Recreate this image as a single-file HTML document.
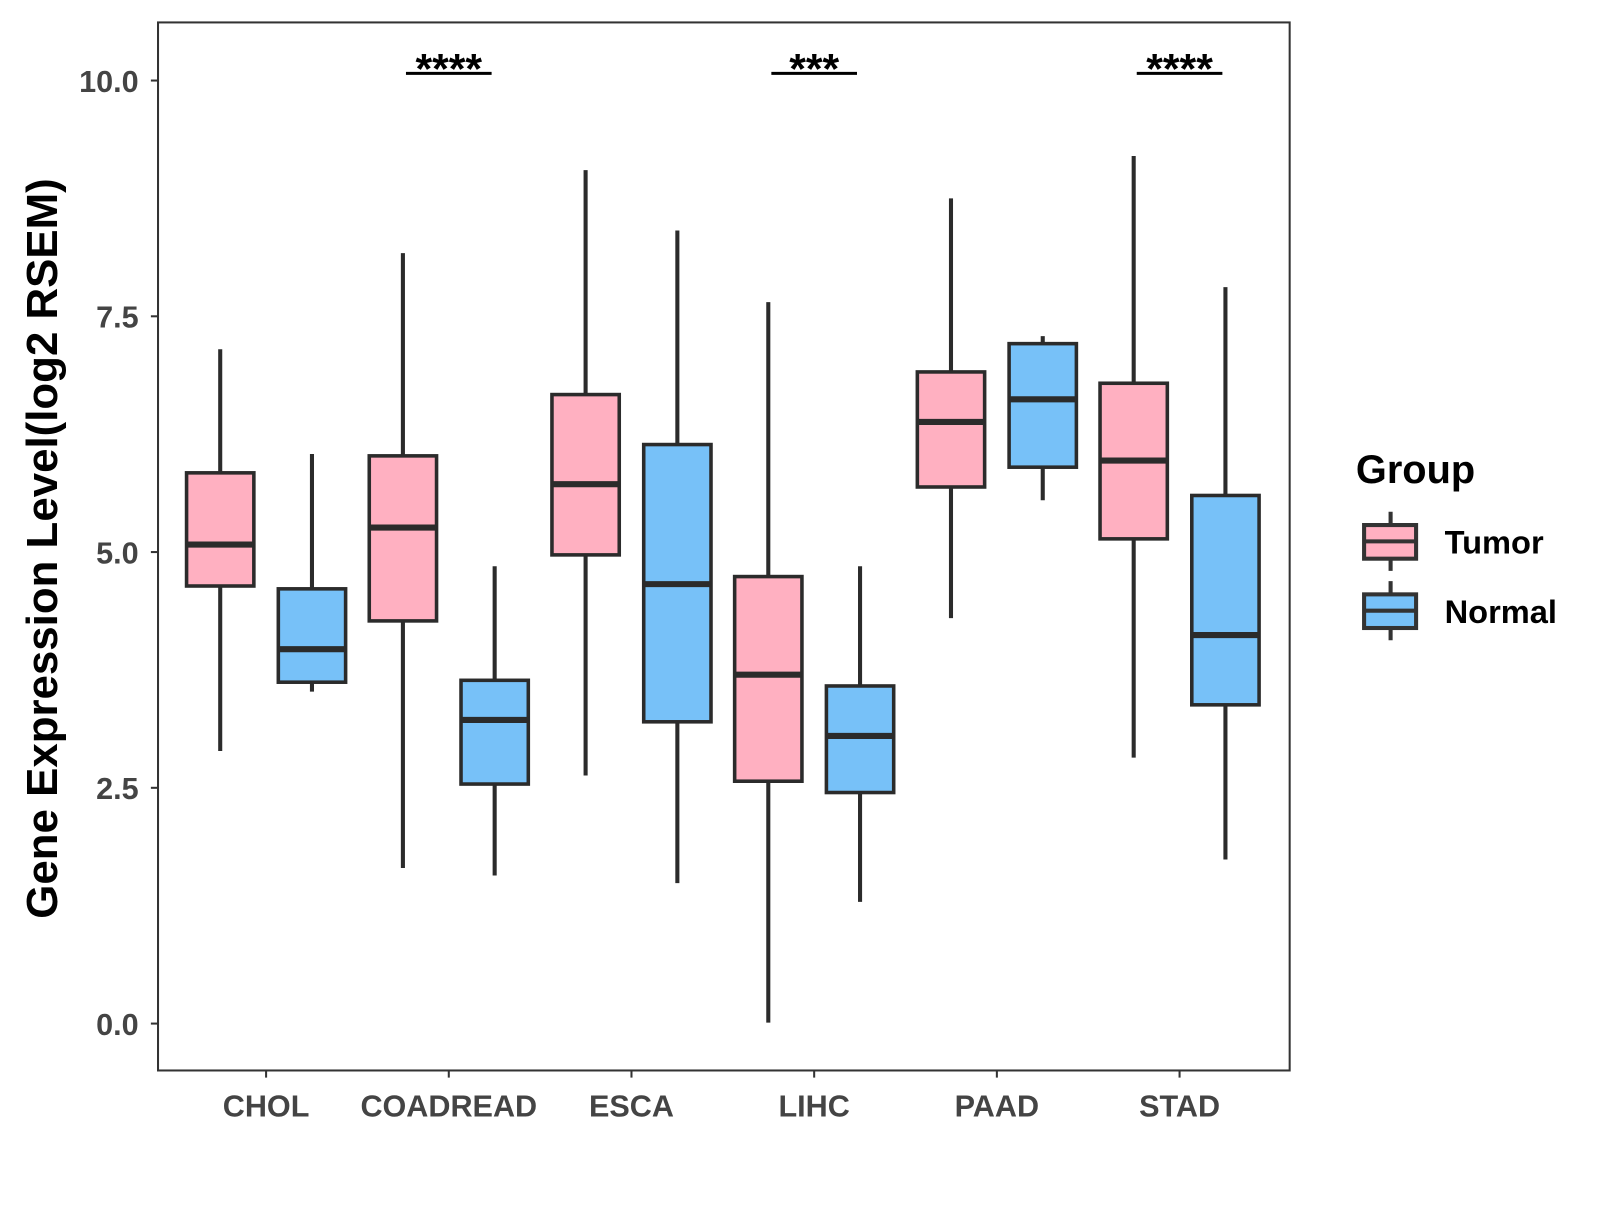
<!DOCTYPE html>
<html><head><meta charset="utf-8"><style>
body{margin:0;background:#fff;}
svg text{font-family:"Liberation Sans",Arial,sans-serif;font-weight:bold;}
</style></head><body>
<svg id="chart" width="1600" height="1200" viewBox="0 0 1600 1200">
<rect x="0" y="0" width="1600" height="1200" fill="#fff"/>
<g transform="scale(1.0195)">
<rect x="155" y="22" width="1110" height="1028" fill="none" stroke="#333" stroke-width="2"/>
<g id="g"></g>
<text transform="translate(56,538) rotate(-90)" text-anchor="middle" font-size="43" fill="#000">Gene Expression Level(log2 RSEM)</text>
<text x="1330" y="474" font-size="39" fill="#000">Group</text>
<g>
<line x1="1364" y1="502" x2="1364" y2="560" stroke="#333" stroke-width="4"/>
<rect x="1338" y="515" width="51" height="33" fill="#FFB0C1" stroke="#333" stroke-width="4"/>
<line x1="1338" y1="531" x2="1389" y2="531" stroke="#333" stroke-width="4"/>
<text x="1417" y="543" font-size="32" fill="#000">Tumor</text></g>
<g>
<line x1="1364" y1="570" x2="1364" y2="628" stroke="#333" stroke-width="4"/>
<rect x="1338" y="583" width="51" height="33" fill="#77C1F8" stroke="#333" stroke-width="4"/>
<line x1="1338" y1="599" x2="1389" y2="599" stroke="#333" stroke-width="4"/>
<text x="1417" y="611" font-size="32" fill="#000">Normal</text></g>
</g>
</svg>
<script>
const categories=["CHOL","COADREAD","ESCA","LIHC","PAAD","STAD"];
const tumorStats=[[2.89,4.64,5.08,5.84,7.15],[1.65,4.27,5.26,6.02,8.17],[2.63,4.97,5.72,6.67,9.05],[0.01,2.57,3.70,4.74,7.65],[4.30,5.69,6.38,6.91,8.75],[2.82,5.14,5.97,6.79,9.2]];
const normalStats=[[3.52,3.62,3.97,4.61,6.04],[1.57,2.54,3.22,3.64,4.85],[1.49,3.2,4.66,6.14,8.41],[1.29,2.45,3.05,3.58,4.85],[5.55,5.90,6.62,7.21,7.29],[1.74,3.38,4.12,5.6,7.81]];
const sigLabels=["","****","","***","","****"];
const yTicks=[0,2.5,5,7.5,10];
const yTickLabels=["0.0","2.5","5.0","7.5","10.0"];
const NS="http://www.w3.org/2000/svg";
const g=document.getElementById('g');
const yS=v=>1004-v*92.5;
const xS=i=>261+i*179.2;
function mk(t,a,p){const e=document.createElementNS(NS,t);for(const k in a)e.setAttribute(k,a[k]);(p||g).appendChild(e);return e;}
yTicks.forEach((v,i)=>{
  const l=mk('line',{x1:148,x2:155,y1:yS(v),y2:yS(v),stroke:'#333','stroke-width':2});
  
  
  const t=mk('text',{x:136,y:yS(v)+11,'text-anchor':'end','font-size':30,fill:'#444'});
  t.textContent=yTickLabels[i];
  
  
});
function box(cx,s,fill,name){
  const grp=mk('g',{});
  
  
  mk('line',{x1:cx,x2:cx,y1:yS(s[4]),y2:yS(s[0]),stroke:'#2b2b2b','stroke-width':4},grp);
  mk('rect',{x:cx-33,y:yS(s[3]),width:66,height:yS(s[1])-yS(s[3]),fill:fill,stroke:'#2b2b2b','stroke-width':3.5},grp);
  mk('line',{x1:cx-33,x2:cx+33,y1:yS(s[2]),y2:yS(s[2]),stroke:'#2b2b2b','stroke-width':6},grp);
}
categories.forEach((c,i)=>{
  const x=xS(i);
  const tk=mk('line',{x1:x,x2:x,y1:1050,y2:1057,stroke:'#333','stroke-width':2});
  
  
  const t=mk('text',{x:x,y:1095,'text-anchor':'middle','font-size':30,fill:'#444'});
  t.textContent=c;
  
  
  box(x-45,tumorStats[i],'#FFB0C1','box-tumor-'+c.toLowerCase());
  box(x+45,normalStats[i],'#77C1F8','box-normal-'+c.toLowerCase());
  if(sigLabels[i]){
    const b=mk('line',{x1:x-42,x2:x+42,y1:72,y2:72,stroke:'#000','stroke-width':3});
    
    
    const s=mk('text',{x:x,y:82,'text-anchor':'middle','font-size':42,fill:'#000'});
    s.textContent=sigLabels[i];
    
    
  }
});
</script>
</body></html>
